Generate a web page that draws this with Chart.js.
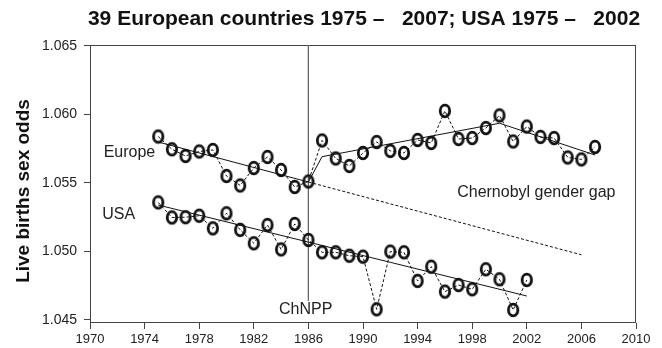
<!DOCTYPE html>
<html>
<head>
<meta charset="utf-8">
<script src="https://cdn.jsdelivr.net/npm/chart.js@4.4.1/dist/chart.umd.min.js"></script>
<style>
  html, body { margin: 0; padding: 0; background: #fff; }
  canvas { display: block; }
</style>
</head>
<body>
<canvas id="chart" width="662" height="348"></canvas>
<script>
// Annual live-birth sex odds (male/female)
const europeYears = [1975, 1976, 1977, 1978, 1979, 1980, 1981, 1982, 1983, 1984, 1985, 1986,
  1987, 1988, 1989, 1990, 1991, 1992, 1993, 1994, 1995, 1996, 1997, 1998, 1999, 2000,
  2001, 2002, 2003, 2004, 2005, 2006, 2007];
const europeOdds = [1.05839, 1.05746, 1.05697, 1.05730, 1.05741, 1.05551, 1.05482, 1.05609,
  1.05690, 1.05595, 1.05471, 1.05511, 1.05810, 1.05679, 1.05624, 1.05719, 1.05799, 1.05734,
  1.05719, 1.05814, 1.05792, 1.06026, 1.05821, 1.05828, 1.05901, 1.05993, 1.05803, 1.05912,
  1.05836, 1.05828, 1.05686, 1.05672, 1.05763];

const usaYears = [1975, 1976, 1977, 1978, 1979, 1980, 1981, 1982, 1983, 1984, 1985, 1986,
  1987, 1988, 1989, 1990, 1991, 1992, 1993, 1994, 1995, 1996, 1997, 1998, 1999, 2000,
  2001, 2002];
const usaOdds = [1.05358, 1.05248, 1.05250, 1.05261, 1.05169, 1.05279, 1.05158, 1.05060,
  1.05193, 1.05015, 1.05201, 1.05084, 1.04994, 1.04994, 1.04969, 1.04962, 1.04578, 1.04999,
  1.04994, 1.04785, 1.04889, 1.04707, 1.04755, 1.04724, 1.04870, 1.04797, 1.04573, 1.04792];

// Fitted trends
const europeTrendBeforeYears = [1975, 1986];
const europeTrendBeforeOdds = [1.05799, 1.05507];
const europeExpectedYears = [1986, 2006];
const europeExpectedOdds = [1.05507, 1.04976];
const europeTrendAfterYears = [1986, 1987, 2000, 2007];
const europeTrendAfterOdds = [1.05507, 1.05692, 1.05936, 1.05704];
const usaTrendYears = [1975, 2002];
const usaTrendOdds = [1.05339, 1.04675];

// Chernobyl accident marker
const chnppYears = [1986, 1986];
const chnppOdds = [1.06507, 1.04640];

// Axes
const xTickValues = [1970, 1974, 1978, 1982, 1986, 1990, 1994, 1998, 2002, 2006, 2010];
const yTickValues = [1.045, 1.050, 1.055, 1.060, 1.065];
const yTickLabels = ['1.045', '1.050', '1.055', '1.060', '1.065'];

const titleText = '39 European countries 1975 \u2013   2007; USA 1975 \u2013   2002';
const yAxisTitle = 'Live births sex odds';

const FONT = '"Liberation Sans", Arial, Helvetica, sans-serif';
const INK = '#111';

function pairs(xs, ys) {
  return xs.map((x, i) => ({ x: x, y: ys[i] }));
}

// Open "O" ring used as the point marker
function makeRing() {
  const c = document.createElement('canvas');
  c.width = 16; c.height = 18;
  const g = c.getContext('2d');
  g.strokeStyle = INK;
  g.lineWidth = 2.8;
  g.beginPath();
  g.ellipse(8, 9, 4.7, 5.8, 0, 0, Math.PI * 2);
  g.stroke();
  return c;
}
const ring = makeRing();

const seriesStyle = {
  borderColor: INK,
  borderWidth: 1,
  borderDash: [3, 2],
  pointStyle: ring,
  pointRadius: 6,
  pointHoverRadius: 6,
  fill: false,
  tension: 0
};
const trendStyle = {
  borderColor: INK,
  borderWidth: 1,
  pointRadius: 0,
  fill: false,
  tension: 0
};

const annotations = {
  id: 'annotations',
  beforeDatasetsDraw(chart) {
    const ctx = chart.ctx;
    const a = chart.chartArea;
    ctx.save();
    ctx.strokeStyle = '#444';
    ctx.lineWidth = 1;
    ctx.strokeRect(a.left + 0.5, a.top + 0.5, a.right - a.left - 1, a.bottom - a.top - 1);
    ctx.restore();
  },
  afterDraw(chart) {
    const ctx = chart.ctx;
    const a = chart.chartArea;
    const xs = chart.scales.x;
    const ys = chart.scales.y;
    ctx.save();
    ctx.fillStyle = INK;

    ctx.font = 'bold 21px ' + FONT;
    ctx.textAlign = 'center';
    ctx.textBaseline = 'middle';
    ctx.fillText(titleText, (a.left + a.right) / 2 + 1, 19);

    ctx.save();
    ctx.translate(24, 191);
    ctx.rotate(-Math.PI / 2);
    ctx.font = 'bold 19px ' + FONT;
    ctx.fillText(yAxisTitle, 0, 0);
    ctx.restore();

    ctx.font = '16px ' + FONT;
    ctx.fillStyle = '#222';
    ctx.textAlign = 'left';
    ctx.fillText('Europe', xs.getPixelForValue(1971.0), ys.getPixelForValue(1.05721));
    ctx.fillText('USA', xs.getPixelForValue(1970.9), ys.getPixelForValue(1.05272));
    ctx.fillText('Chernobyl gender gap', xs.getPixelForValue(1996.9), ys.getPixelForValue(1.05427));
    ctx.textAlign = 'center';
    ctx.fillText('ChNPP', xs.getPixelForValue(1985.8), ys.getPixelForValue(1.04573));
    ctx.restore();
  }
};

new Chart(document.getElementById('chart'), {
  type: 'line',
  data: {
    datasets: [
      Object.assign({ label: 'Europe', data: pairs(europeYears, europeOdds) }, seriesStyle),
      Object.assign({ label: 'USA', data: pairs(usaYears, usaOdds) }, seriesStyle),
      Object.assign({ label: 'Europe trend 1975-1986', data: pairs(europeTrendBeforeYears, europeTrendBeforeOdds) }, trendStyle),
      Object.assign({ label: 'Europe trend 1986-2007', data: pairs(europeTrendAfterYears, europeTrendAfterOdds) }, trendStyle),
      Object.assign({ label: 'Europe expected', data: pairs(europeExpectedYears, europeExpectedOdds) }, trendStyle, { borderDash: [3, 2] }),
      Object.assign({ label: 'USA trend', data: pairs(usaTrendYears, usaTrendOdds) }, trendStyle),
      Object.assign({ label: 'ChNPP', data: pairs(chnppYears, chnppOdds) }, trendStyle, { borderColor: '#666' })
    ]
  },
  options: {
    responsive: false,
    animation: false,
    devicePixelRatio: 1,
    layout: { padding: { top: 45, right: 26, bottom: 0, left: 0 } },
    plugins: {
      legend: { display: false },
      tooltip: { enabled: false },
      title: { display: false }
    },
    scales: {
      x: {
        type: 'linear',
        min: 1970,
        max: 2010,
        afterBuildTicks: s => { s.ticks = xTickValues.map(v => ({ value: v })); },
        afterFit: s => { s.height = 25; },
        border: { display: false },
        grid: { drawOnChartArea: false, drawTicks: true, tickLength: 6, color: '#444' },
        ticks: {
          autoSkip: false,
          maxRotation: 0,
          padding: 3,
          color: '#222',
          font: { family: FONT, size: 13 },
          callback: v => String(v)
        }
      },
      y: {
        type: 'linear',
        min: 1.04478,
        max: 1.06507,
        afterBuildTicks: s => { s.ticks = yTickValues.map(v => ({ value: v })); },
        afterFit: s => { s.width = 90; },
        border: { display: false },
        grid: { drawOnChartArea: false, drawTicks: true, tickLength: 6, color: '#444' },
        ticks: {
          autoSkip: false,
          padding: 7,
          color: '#222',
          font: { family: FONT, size: 14 },
          callback: v => yTickLabels[yTickValues.indexOf(v)] ?? v.toFixed(3)
        }
      }
    }
  },
  plugins: [annotations]
});
</script>
</body>
</html>
